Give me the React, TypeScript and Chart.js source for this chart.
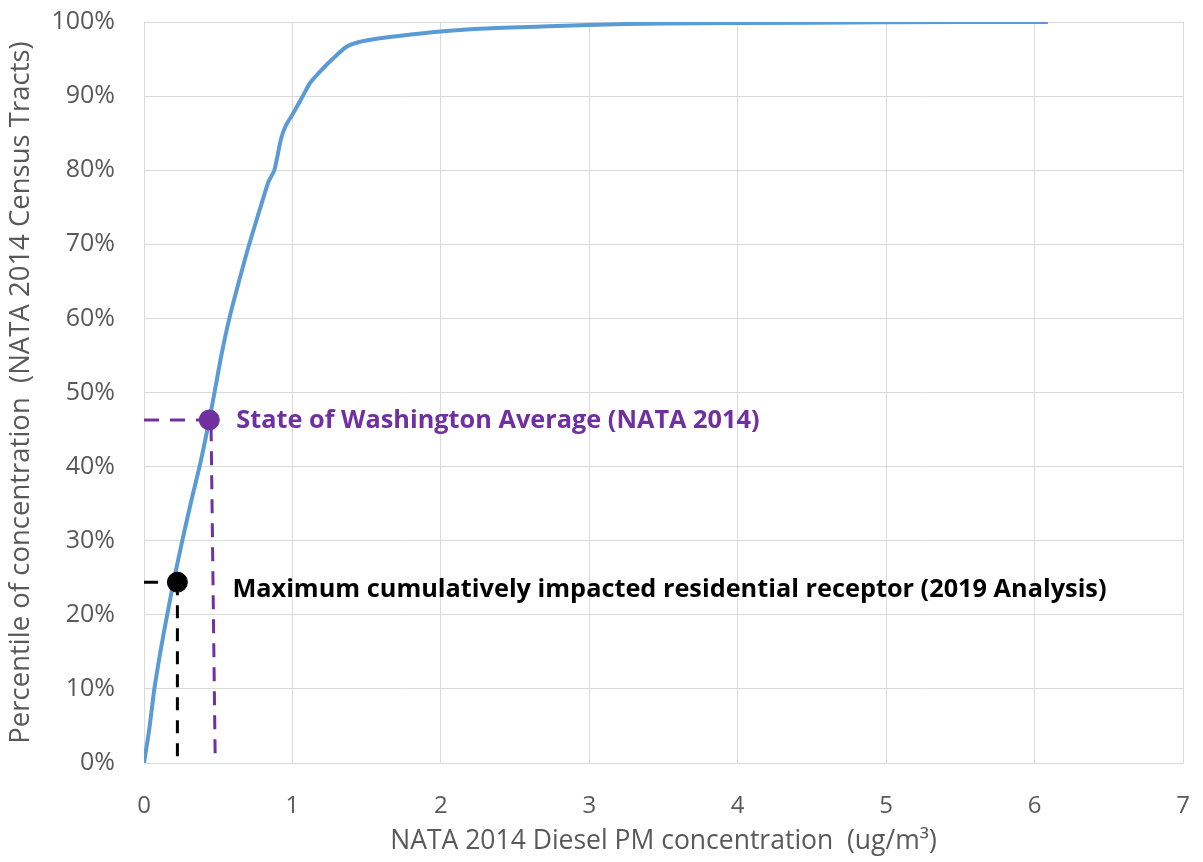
import React, { useEffect, useRef } from "react";
import { Chart, registerables } from "chart.js";

Chart.register(...registerables);

// Cumulative distribution of NATA 2014 Diesel PM concentration (ug/m3) vs percentile
const concentration = [0, 0.035, 0.07, 0.113, 0.157, 0.205, 0.259, 0.32, 0.38, 0.44, 0.475, 0.525, 0.575, 0.64, 0.709, 0.8, 0.84, 0.878, 0.923, 0.955, 1.0, 1.07, 1.12, 1.2, 1.27, 1.36, 1.45, 1.59, 1.8, 1.98, 2.26, 2.68, 2.99, 3.5, 4.5, 5.5, 6.09];
const percentile = [0, 4.5, 10, 15.3, 20.1, 25, 30.1, 35.5, 40.5, 46.3, 50, 55.4, 60, 65, 70, 76, 78.5, 80, 84.2, 86, 87.5, 90, 91.8, 93.6, 95, 96.6, 97.3, 97.8, 98.3, 98.7, 99.1, 99.4, 99.6, 99.8, 99.9, 100, 100];

// Highlighted points
const waAverage = { x: 0.44, y: 46.3 };
const waAverageDropTopX = 0.452;
const waAverageDropBottomX = 0.48;
const maxReceptor = { x: 0.225, y: 24.4 };

const waLabel = "State of Washington Average (NATA 2014)";
const receptorLabel = "Maximum cumulatively impacted residential receptor (2019 Analysis)";
const xTitle = "NATA 2014 Diesel PM concentration  (ug/m\u00B3)";
const yTitle = "Percentile of concentration  (NATA 2014 Census Tracts)";

const PURPLE = "#7030A0";
const BLUE = "#5B9BD5";
const GRAY = "#595959";

export default function App() {
  const ref = useRef<HTMLCanvasElement>(null);

  useEffect(() => {
    if (!ref.current) return;

    const labelPlugin = {
      id: "labels",
      afterDatasetsDraw(chart: any) {
        const { ctx, scales } = chart;
        const xs = scales.x;
        const ys = scales.y;
        ctx.save();
        ctx.textBaseline = "middle";
        ctx.textAlign = "left";
        ctx.font = "bold 25.3px 'Open Sans'";
        ctx.fillStyle = PURPLE;
        ctx.fillText(waLabel, xs.getPixelForValue(waAverage.x) + 27, ys.getPixelForValue(waAverage.y) + 1);
        ctx.fillStyle = "#000000";
        ctx.fillText(receptorLabel, xs.getPixelForValue(maxReceptor.x) + 55, ys.getPixelForValue(maxReceptor.y) + 8);
        ctx.restore();
      },
    };

    const curve = concentration.map((x, i) => ({ x, y: percentile[i] }));

    const chart = new Chart(ref.current, {
      type: "scatter",
      data: {
        datasets: [
          {
            data: [{ x: 0, y: waAverage.y }, { x: waAverage.x, y: waAverage.y }],
            showLine: true,
            borderColor: PURPLE,
            borderWidth: 3,
            borderDash: [15, 11],
            pointRadius: 0,
            order: 5,
          },
          {
            data: [{ x: waAverageDropTopX, y: waAverage.y - 1 }, { x: waAverageDropBottomX, y: 0 }],
            showLine: true,
            borderColor: PURPLE,
            borderWidth: 3,
            borderDash: [14, 10],
            pointRadius: 0,
            order: 5,
          },
          {
            data: [{ x: 0, y: maxReceptor.y }, { x: maxReceptor.x, y: maxReceptor.y }],
            showLine: true,
            borderColor: "#000000",
            borderWidth: 3,
            borderDash: [14, 11],
            pointRadius: 0,
            order: 5,
          },
          {
            data: [{ x: maxReceptor.x, y: maxReceptor.y }, { x: maxReceptor.x, y: 0 }],
            showLine: true,
            borderColor: "#000000",
            borderWidth: 3,
            borderDash: [13, 10],
            pointRadius: 0,
            order: 5,
          },
          {
            data: curve,
            showLine: true,
            borderColor: BLUE,
            borderWidth: 4,
            pointRadius: 0,
            tension: 0.25,
            order: 3,
          },
          {
            data: [waAverage],
            pointRadius: 10,
            pointBackgroundColor: PURPLE,
            pointBorderColor: PURPLE,
            order: 1,
          },
          {
            data: [maxReceptor],
            pointRadius: 10,
            pointBackgroundColor: "#000000",
            pointBorderColor: "#000000",
            order: 1,
          },
        ],
      },
      options: {
        animation: false,
        responsive: true,
        maintainAspectRatio: false,
        layout: { padding: { top: 22, right: 20, left: 0, bottom: 0 } },
        plugins: { legend: { display: false }, tooltip: { enabled: false } },
        scales: {
          x: {
            type: "linear",
            min: 0,
            max: 7,
            afterFit: (s: any) => {
              s.height = 99;
              s.paddingLeft = 0;
              s.paddingRight = 0;
            },
            grid: { color: "#d9d9d9", lineWidth: 1, drawTicks: false },
            border: { color: "#d9d9d9" },
            ticks: { stepSize: 1, padding: 29, color: GRAY, font: { family: "'Open Sans'", size: 24 } },
            title: {
              display: true,
              text: xTitle,
              color: GRAY,
              font: { family: "'Open Sans'", size: 26.5 },
              padding: { top: 0, bottom: 5 },
            },
          },
          y: {
            min: 0,
            max: 100,
            afterFit: (s: any) => {
              s.width = 144;
              s.paddingTop = 0;
              s.paddingBottom = 0;
            },
            grid: { color: "#d9d9d9", lineWidth: 1, drawTicks: false },
            border: { color: "#d9d9d9" },
            ticks: {
              stepSize: 10,
              padding: 29,
              color: GRAY,
              font: { family: "'Open Sans'", size: 25 },
              callback: (v: any) => v + "%",
            },
            title: {
              display: true,
              text: yTitle,
              color: GRAY,
              font: { family: "'Open Sans'", size: 27.5 },
              padding: { top: 5, bottom: 0 },
            },
          },
        },
      },
      plugins: [labelPlugin],
    });

    return () => chart.destroy();
  }, []);

  return (
    <div style={{ position: "absolute", left: 0, top: 0, width: 1203, height: 862, background: "#fff" }}>
      <canvas ref={ref} />
    </div>
  );
}
